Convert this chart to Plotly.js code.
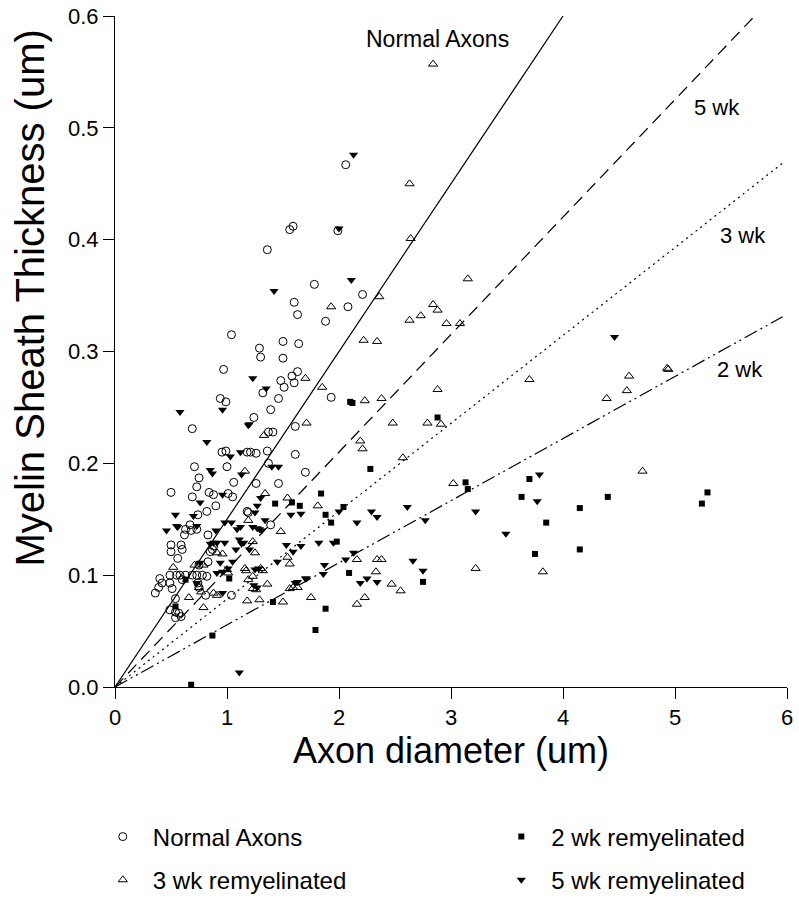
<!DOCTYPE html>
<html>
<head>
<meta charset="utf-8">
<script src="https://cdn.plot.ly/plotly-3.0.1.min.js"></script>
<style>html,body{margin:0;padding:0;background:#fff;}</style>
</head>
<body>
<div id="chart" style="width:799px;height:900px;"></div>
<script>
// Normal axons (open circles)
const normalX = [0.94,0.99,0.69,0.955,0.99,1.18,0.71,1.0,0.75,1.06,0.50,0.73,0.69,0.84,0.88,1.01,1.05,0.90,0.82,0.74,1.18,0.67,0.63,0.68,0.62,0.73,0.83,0.50,0.50,0.59,0.60,0.56,0.85,0.87,0.88,0.83,0.75,0.49,0.55,0.58,0.63,0.69,0.73,0.78,0.82,0.40,0.42,0.39,0.36,0.49,0.51,0.60,0.74,0.75,0.81,1.04,0.54,0.49,0.54,0.57,0.54,0.59,
  1.32,1.46,1.39,1.93,1.24,1.37,1.41,1.61,1.21,1.26,1.36,1.61,1.37,1.70,1.26,1.46,1.19,1.39,
  1.56,1.59,1.99,1.36,1.78,1.60,1.63,1.88,2.08,2.21,1.04,1.50,1.64,1.29,1.30,1.50,0.97,1.63,1.58,1.60,1.48,1.51,2.06];
const normalY = [0.258,0.255,0.231,0.210,0.211,0.210,0.197,0.197,0.187,0.183,0.174,0.179,0.170,0.174,0.172,0.173,0.170,0.162,0.157,0.154,0.157,0.145,0.141,0.140,0.136,0.141,0.136,0.127,0.121,0.127,0.123,0.115,0.121,0.123,0.126,0.112,0.109,0.100,0.100,0.100,0.100,0.100,0.100,0.100,0.099,0.097,0.093,0.089,0.084,0.093,0.088,0.096,0.093,0.089,0.082,0.082,0.079,0.069,0.067,0.066,0.062,0.063,
  0.263,0.258,0.248,0.259,0.241,0.228,0.228,0.233,0.210,0.209,0.211,0.208,0.200,0.192,0.182,0.182,0.156,0.145,
  0.409,0.412,0.408,0.391,0.360,0.344,0.333,0.327,0.340,0.351,0.315,0.309,0.307,0.303,0.295,0.294,0.284,0.282,0.278,0.272,0.274,0.268,0.467];

// 2 wk remyelinated (filled squares)
const wk2X = [0.63,1.02,0.54,0.87,0.68,2.10,2.12,2.28,1.84,1.43,1.58,1.65,1.88,1.93,2.04,1.98,2.09,1.41,1.88,1.79,2.88,3.13,3.15,2.75,3.70,3.63,4.40,4.15,5.29,5.24,3.85,3.75,4.15];
const wk2Y = [0.096,0.097,0.072,0.046,0.002,0.255,0.254,0.195,0.173,0.164,0.165,0.162,0.154,0.147,0.161,0.130,0.102,0.076,0.070,0.051,0.241,0.183,0.177,0.094,0.186,0.170,0.170,0.160,0.174,0.164,0.147,0.119,0.123];

// 3 wk remyelinated (open triangles)
const wk3X = [1.16,1.19,0.52,0.91,0.96,0.71,0.79,1.16,1.19,0.75,0.77,1.18,0.66,0.79,0.88,0.91,1.01,1.00,
  1.85,1.71,1.33,2.23,2.19,2.21,1.34,1.54,1.81,1.48,1.23,1.25,1.54,1.56,1.17,1.30,1.32,1.23,1.36,1.23,1.26,1.56,1.59,1.63,1.29,1.50,1.75,2.16,2.34,2.33,2.16,2.23,
  2.38,2.88,2.48,2.79,2.91,2.57,3.02,2.38,2.47,2.55,3.22,
  3.70,4.59,4.93,4.94,4.57,4.39,4.71,
  1.93,2.22,1.70,
  2.84,2.63,2.64,3.15,2.36,2.84,2.88,2.63,2.73,2.96,3.08,2.34,3.82];
const wk3Y = [0.193,0.149,0.107,0.120,0.119,0.109,0.109,0.106,0.096,0.089,0.085,0.077,0.080,0.071,0.084,0.082,0.102,0.105,
  0.268,0.236,0.225,0.256,0.220,0.213,0.173,0.169,0.162,0.139,0.130,0.120,0.116,0.110,0.104,0.106,0.104,0.099,0.092,0.088,0.087,0.088,0.089,0.089,0.078,0.076,0.080,0.114,0.114,0.103,0.074,0.080,
  0.258,0.266,0.236,0.236,0.235,0.205,0.182,0.114,0.092,0.086,0.106,
  0.275,0.278,0.285,0.284,0.265,0.258,0.193,
  0.340,0.310,0.276,
  0.557,0.450,0.401,0.365,0.349,0.342,0.337,0.328,0.332,0.325,0.325,0.309,0.103];

// 5 wk remyelinated (filled down triangles)
const wk5X = [0.58,0.96,1.19,0.82,1.03,1.12,0.85,0.87,1.13,0.76,0.96,0.54,0.70,0.55,0.56,0.46,0.73,0.90,0.98,1.04,1.09,1.11,1.13,0.85,0.88,0.91,0.98,1.08,0.94,1.05,1.01,0.76,0.91,0.96,0.73,0.96,1.11,
  1.35,1.20,1.40,1.46,1.27,1.30,1.25,1.57,1.66,1.34,1.23,1.27,1.29,1.31,1.12,1.15,1.20,1.53,1.59,1.66,1.82,1.95,2.00,2.16,2.29,2.34,1.45,1.25,1.28,1.24,1.27,1.61,1.63,1.70,1.71,1.87,1.86,2.06,2.13,2.19,2.25,2.34,
  1.42,2.11,1.23,
  2.61,2.77,3.22,3.49,2.66,2.75,
  3.79,3.77,4.46,2.13,2.00];
const wk5Y = [0.246,0.248,0.234,0.219,0.206,0.210,0.194,0.191,0.190,0.165,0.172,0.154,0.153,0.144,0.143,0.140,0.144,0.140,0.147,0.147,0.141,0.132,0.128,0.128,0.129,0.129,0.129,0.123,0.111,0.112,0.106,0.111,0.102,0.103,0.093,0.084,0.013,
  0.267,0.235,0.197,0.197,0.162,0.169,0.156,0.154,0.155,0.149,0.143,0.142,0.141,0.140,0.143,0.129,0.123,0.127,0.121,0.126,0.129,0.129,0.157,0.147,0.157,0.152,0.112,0.105,0.106,0.091,0.089,0.093,0.094,0.097,0.097,0.109,0.101,0.114,0.120,0.093,0.097,0.094,
  0.354,0.364,0.276,
  0.161,0.149,0.157,0.137,0.113,0.104,
  0.190,0.166,0.313,0.476,0.410];

// Regression lines (from origin to end point)
const lineNames = ['Normal Axons', '5 wk', '3 wk', '2 wk'];
const lineEndX = [4.0, 5.74, 5.98, 5.96];
const lineEndY = [0.600, 0.603, 0.470, 0.331];
const lineLabelX = [2.875, 5.375, 5.61, 5.58];
const lineLabelY = [0.579, 0.518, 0.404, 0.284];

const FONT = 'Liberation Sans, Arial, Helvetica, sans-serif';
const dashes = ['solid', '12px,7px', '2px,4px', '14px,4px,2px,4px,2px,4px'];

const traces = [];
lineNames.forEach((n, i) => {
  traces.push({
    x: [0, lineEndX[i]], y: [0, lineEndY[i]], mode: 'lines', type: 'scatter',
    line: {color: '#000', width: 1.2, dash: dashes[i]}, showlegend: false, hoverinfo: 'skip'
  });
});
traces.push({x: normalX, y: normalY, mode: 'markers', type: 'scatter', name: 'Normal Axons',
  marker: {symbol: 'circle-open', size: 8, color: '#000', line: {width: 1, color: '#000'}},
  legend: 'legend', legendgroup: 'a'});
traces.push({x: wk3X, y: wk3Y, mode: 'markers', type: 'scatter', name: '3 wk remyelinated',
  marker: {symbol: 'triangle-up-open', size: 8, color: '#000', line: {width: 1, color: '#000'}},
  legend: 'legend', legendgroup: 'b'});
traces.push({x: wk2X, y: wk2Y, mode: 'markers', type: 'scatter', name: '2 wk remyelinated',
  marker: {symbol: 'square', size: 6, color: '#000'},
  legend: 'legend2', legendgroup: 'c'});
traces.push({x: wk5X, y: wk5Y, mode: 'markers', type: 'scatter', name: '5 wk remyelinated',
  marker: {symbol: 'triangle-down', size: 8, color: '#000'},
  legend: 'legend2', legendgroup: 'd'});

const annotations = lineNames.map((n, i) => ({
  x: lineLabelX[i], y: lineLabelY[i], xref: 'x', yref: 'y', text: n, showarrow: false,
  font: {family: FONT, size: i === 0 ? 23 : 22, color: '#000'}
}));
annotations.push({
  x: -0.127, y: 0.58, xref: 'paper', yref: 'paper', xanchor: 'center', yanchor: 'middle',
  text: 'Myelin Sheath Thickness (um)', textangle: -90, showarrow: false,
  font: {family: FONT, size: 40, color: '#000'}
});

const legendCommon = {
  orientation: 'v', yanchor: 'top', xanchor: 'left', bgcolor: 'rgba(0,0,0,0)', borderwidth: 0,
  font: {family: FONT, size: 24, color: '#000'}, tracegroupgap: 9, itemwidth: 50, itemclick: false
};

const layout = {
  width: 799, height: 900,
  margin: {l: 115, r: 12, t: 16, b: 213, autoexpand: false},
  paper_bgcolor: '#fff', plot_bgcolor: '#fff',
  font: {family: FONT, color: '#000'},
  showlegend: true,
  xaxis: {
    range: [0, 6], tickvals: [0,1,2,3,4,5,6], showgrid: false, zeroline: false,
    showline: true, linecolor: '#000', linewidth: 1, ticks: 'outside', ticklen: 11, tickwidth: 1, tickcolor: '#000',
    tickfont: {family: FONT, size: 22}, automargin: false,
    title: {text: 'Axon diameter (um)', font: {family: FONT, size: 36}, standoff: 0}
  },
  yaxis: {
    range: [0, 0.6], tickvals: [0,0.1,0.2,0.3,0.4,0.5,0.6], tickformat: '.1f', showgrid: false, zeroline: false,
    showline: true, linecolor: '#000', linewidth: 1, ticks: 'outside', ticklen: 11, tickwidth: 1, tickcolor: '#000',
    tickfont: {family: FONT, size: 22}, automargin: false
  },
  legend: Object.assign({x: -0.033, y: -0.19}, legendCommon),
  legend2: Object.assign({x: 0.56, y: -0.19}, legendCommon),
  annotations: annotations
};

Plotly.newPlot('chart', traces, layout, {displayModeBar: false, staticPlot: true});
</script>
</body>
</html>
